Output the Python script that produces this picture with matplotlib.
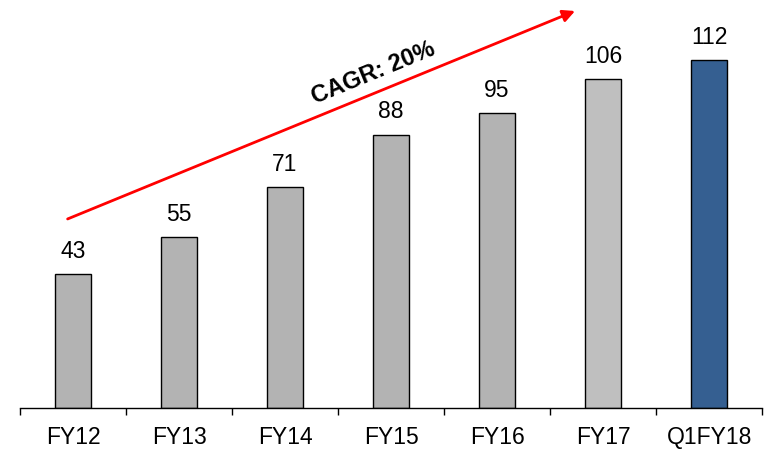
import matplotlib.pyplot as plt
import numpy as np

plt.rcParams['font.family'] = ['Liberation Sans', 'DejaVu Sans']

categories = ["FY12", "FY13", "FY14", "FY15", "FY16", "FY17", "Q1FY18"]
values = [43, 55, 71, 88, 95, 106, 112]
colors = ["#B3B3B3"] * 5 + ["#BFBFBF", "#355F91"]
cagr_label = "CAGR: 20%"

fig = plt.figure(figsize=(7.69, 4.5), dpi=100)
ax = fig.add_axes([0.026, 0.0933, 0.965, 0.9067])

x = np.arange(len(categories))
bars = ax.bar(x, values, width=0.34, color=colors, edgecolor="black", linewidth=1.0, zorder=2)

for xi, v in zip(x, values):
    ax.annotate(str(v), (xi, v), xytext=(0, 8), textcoords="offset points",
                ha="center", va="bottom", fontsize=16.5)

ax.set_xlim(-0.5, len(categories) - 0.5)
ax.set_ylim(0, 131.3)

ax.set_xticks(x)
ax.set_xticklabels(categories, fontsize=16.5)
ax.tick_params(axis="x", which="major", length=0, pad=13)
ax.set_xticks(np.arange(len(categories) + 1) - 0.5, minor=True)
ax.tick_params(axis="x", which="minor", length=5, width=1, direction="out")
ax.set_yticks([])

for s in ["left", "right", "top"]:
    ax.spines[s].set_visible(False)
ax.spines["bottom"].set_linewidth(1.0)

# fleche CAGR
ax.annotate("", xy=(4.76, 128.1), xytext=(-0.075, 60.5),
            arrowprops=dict(arrowstyle="-|>", color="red", lw=2, mutation_scale=18),
            annotation_clip=False)
ax.text(2.83, 107.8, cagr_label, fontsize=17, fontweight="bold", rotation=22.3,
        rotation_mode="anchor", ha="center", va="center")

fig.savefig("out.png", dpi=100)
